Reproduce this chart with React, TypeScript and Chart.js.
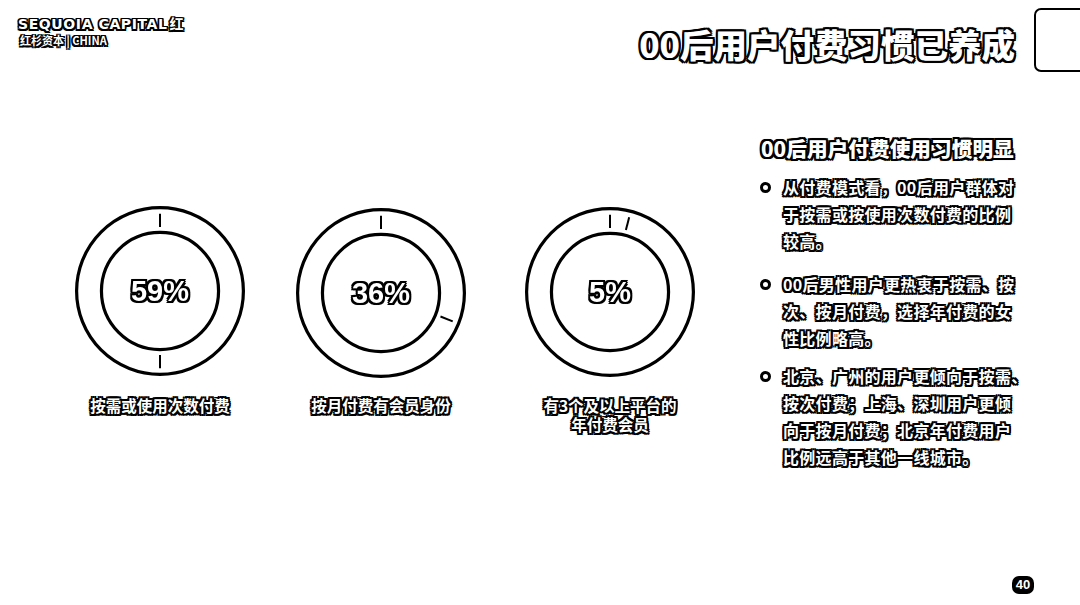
import React, { useEffect, useRef } from 'react';
import { Chart, registerables } from 'chart.js';

Chart.register(...registerables);

const pageTitle = '00后用户付费习惯已养成';
const chartLabels = ['按需或使用次数付费', '按月付费有会员身份', '有3个及以上平台的\n年付费会员'];
const percentValues = [59, 36, 5];
// arc split as it is drawn in the picture (share, remainder)
const arcShares = [
  [50, 50],
  [31, 69],
  [4, 96],
];
const panelHeading = '00后用户付费使用习惯明显';
const bulletLines = [
  ['从付费模式看，00后用户群体对', '于按需或按使用次数付费的比例', '较高。'],
  ['00后男性用户更热衷于按需、按', '次、按月付费，选择年付费的女', '性比例略高。'],
  ['北京、广州的用户更倾向于按需、', '按次付费；上海、深圳用户更倾', '向于按月付费；北京年付费用户', '比例远高于其他一线城市。'],
];

const outline =
  '-2px -2px 0 #000, 2px -2px 0 #000, -2px 2px 0 #000, 2px 2px 0 #000, 0 -2px 0 #000, 0 2px 0 #000, -2px 0 0 #000, 2px 0 0 #000, 0 0 3px #000';
const midOutline =
  '-1.8px -1.8px 0 #000, 1.8px -1.8px 0 #000, -1.8px 1.8px 0 #000, 1.8px 1.8px 0 #000, 0 -2px 0 #000, 0 2px 0 #000, -2px 0 0 #000, 2px 0 0 #000';
const thinOutline =
  '-1.5px -1.5px 0 #000, 1.5px -1.5px 0 #000, -1.5px 1.5px 0 #000, 1.5px 1.5px 0 #000, 0 -1.5px 0 #000, 0 1.5px 0 #000, -1.5px 0 0 #000, 1.5px 0 0 #000';
const CJK = '"Noto Sans CJK SC", "Noto Sans", sans-serif';

const ringPlugin = {
  id: 'ringOutline',
  afterDatasetsDraw(chart: any) {
    const meta = chart.getDatasetMeta(0);
    if (!meta || !meta.data.length) return;
    const a0: any = meta.data[0];
    const { x, y, outerRadius, innerRadius } = a0;
    const ctx = chart.ctx;
    ctx.save();
    ctx.strokeStyle = '#000';
    ctx.lineWidth = 3.2;
    ctx.beginPath();
    ctx.arc(x, y, outerRadius - 1.6, 0, Math.PI * 2);
    ctx.stroke();
    ctx.beginPath();
    ctx.arc(x, y, innerRadius + 1.6, 0, Math.PI * 2);
    ctx.stroke();
    const w = outerRadius - innerRadius;
    ctx.lineWidth = 2;
    meta.data.forEach((arc: any) => {
      const ang = arc.startAngle;
      const r1 = innerRadius + w * 0.25;
      const r2 = innerRadius + w * 0.72;
      ctx.beginPath();
      ctx.moveTo(x + Math.cos(ang) * r1, y + Math.sin(ang) * r1);
      ctx.lineTo(x + Math.cos(ang) * r2, y + Math.sin(ang) * r2);
      ctx.stroke();
    });
    ctx.restore();
  },
};

function Ring({ values, left, top }: { values: number[]; left: number; top: number }) {
  const ref = useRef<HTMLCanvasElement>(null);
  useEffect(() => {
    if (!ref.current) return;
    const chart = new Chart(ref.current, {
      type: 'doughnut',
      data: {
        labels: ['a', 'b'],
        datasets: [
          {
            data: values,
            backgroundColor: ['#ffffff', '#ffffff'],
            borderWidth: 0,
          },
        ],
      },
      options: {
        responsive: false,
        animation: false,
        cutout: '67%',
        layout: { padding: 5 },
        plugins: { legend: { display: false }, tooltip: { enabled: false } },
        events: [],
      },
      plugins: [ringPlugin],
    });
    return () => chart.destroy();
  }, []);
  return (
    <canvas
      ref={ref}
      width={180}
      height={180}
      style={{ position: 'absolute', left, top, width: 180, height: 180 }}
    />
  );
}

const centers = [
  [160, 291],
  [381, 293],
  [610, 292],
];

export default function App() {
  useEffect(() => {
    document.body.style.margin = '0';
  }, []);
  return (
    <div
      style={{
        position: 'fixed',
        left: 0,
        top: 0,
        width: 1080,
        height: 605,
        overflow: 'hidden',
        background: '#fff',
        fontFamily: CJK,
      }}
    >
      {/* logo */}
      <div
        style={{
          position: 'absolute',
          left: 18,
          top: 13,
          fontFamily: '"DejaVu Sans", sans-serif',
          fontWeight: 700,
          fontSize: 14,
          letterSpacing: 0.6,
          color: '#fff',
          textShadow: thinOutline,
          whiteSpace: 'nowrap',
        }}
      >
        SEQUOIA CAPITAL<span style={{ fontFamily: CJK, marginLeft: 2 }}>红</span>
      </div>
      <div
        style={{
          position: 'absolute',
          left: 20,
          top: 32,
          fontSize: 11,
          fontWeight: 700,
          color: '#fff',
          textShadow: thinOutline,
          whiteSpace: 'nowrap',
        }}
      >
        红杉资本 | CHINA
      </div>

      {/* title */}
      <div
        style={{
          position: 'absolute',
          right: 65,
          top: 22,
          fontSize: 33.5,
          lineHeight: '44px',
          fontWeight: 900,
          color: '#fff',
          textShadow: outline,
          whiteSpace: 'nowrap',
        }}
      >
        {pageTitle}
      </div>
      <div
        style={{
          position: 'absolute',
          left: 1034,
          top: 8,
          width: 60,
          height: 60,
          border: '2px solid #000',
          borderRadius: 7,
        }}
      />

      {/* rings */}
      {arcShares.map((v, i) => (
        <Ring key={i} values={v} left={centers[i][0] - 90} top={centers[i][1] - 90} />
      ))}
      {percentValues.map((p, i) => (
        <div
          key={'p' + i}
          style={{
            position: 'absolute',
            left: centers[i][0] - 60,
            width: 120,
            top: centers[i][1] - 20,
            height: 40,
            lineHeight: '40px',
            textAlign: 'center',
            fontFamily: '"Liberation Sans", Arial, sans-serif',
            fontWeight: 700,
            fontSize: 29,
            color: '#fff',
            textShadow: outline,
          }}
        >
          {p}%
        </div>
      ))}
      {chartLabels.map((l, i) => (
        <div
          key={'l' + i}
          style={{
            position: 'absolute',
            left: centers[i][0] - 100,
            width: 200,
            top: 396,
            textAlign: 'center',
            fontSize: 15.5,
            lineHeight: '19px',
            fontWeight: 700,
            color: '#fff',
            textShadow: midOutline,
            whiteSpace: 'pre',
          }}
        >
          {l}
        </div>
      ))}

      {/* right panel */}
      <div
        style={{
          position: 'absolute',
          left: 761,
          top: 133,
          fontSize: 20.7,
          lineHeight: '30px',
          fontWeight: 900,
          color: '#fff',
          textShadow: outline,
          whiteSpace: 'nowrap',
        }}
      >
        {panelHeading}
      </div>
      {bulletLines.map((lines, i) => {
        const tops = [174, 271, 363];
        return (
          <div key={'b' + i}>
            <div
              style={{
                position: 'absolute',
                left: 760,
                top: tops[i] + 8,
                width: 5,
                height: 5,
                border: '3px solid #000',
                borderRadius: '50%',
              }}
            />
            <div
              style={{
                position: 'absolute',
                left: 783,
                top: tops[i],
                fontSize: 16,
                letterSpacing: 0.3,
                lineHeight: '27px',
                fontWeight: 700,
                color: '#fff',
                textShadow: midOutline,
                whiteSpace: 'pre',
              }}
            >
              {lines.join('\n')}
            </div>
          </div>
        );
      })}

      {/* page number */}
      <div
        style={{
          position: 'absolute',
          left: 1012,
          top: 576,
          width: 22,
          height: 18,
          background: '#000',
          borderRadius: 7,
          color: '#fff',
          fontFamily: '"Liberation Sans", Arial, sans-serif',
          fontWeight: 700,
          fontSize: 13,
          lineHeight: '18px',
          textAlign: 'center',
        }}
      >
        40
      </div>
    </div>
  );
}
